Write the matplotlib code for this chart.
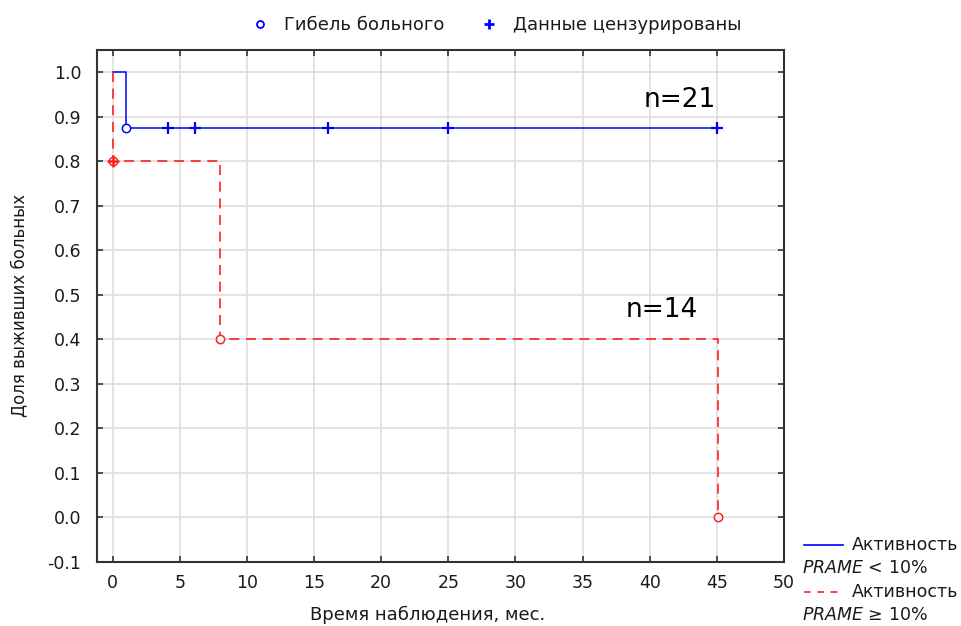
"""
Kaplan-Meier survival curves by PRAME activity.
"""

import matplotlib
matplotlib.use("Agg")
import matplotlib.pyplot as plt
from matplotlib.lines import Line2D

# survival steps, PRAME < 10%
low_t = [0, 1, 45]
low_s = [1.0, 0.875, 0.875]
low_death_t = [1]
low_death_s = [0.875]
low_cens_t = [4.1, 6.1, 16, 25, 45]
low_cens_s = [0.875, 0.875, 0.875, 0.875, 0.875]

# survival steps, PRAME >= 10%
high_t = [0, 0, 8, 45.1]
high_s = [1.0, 0.8, 0.4, 0.0]
high_death_t = [0, 8, 45.1]
high_death_s = [0.8, 0.4, 0.0]
high_cens_t = [0]
high_cens_s = [0.8]

x_ticks = [0, 5, 10, 15, 20, 25, 30, 35, 40, 45, 50]
y_ticks = [-0.1, 0.0, 0.1, 0.2, 0.3, 0.4, 0.5, 0.6, 0.7, 0.8, 0.9, 1.0]

BLUE = "#0000ff"
RED = "#ff2020"
TXT = "#1a1a1a"

plt.rcParams["font.family"] = ["DejaVu Sans"]

fig = plt.figure(figsize=(9.62, 6.26), dpi=100)
ax = fig.add_axes([0.1005, 0.1027, 0.7143, 0.8174])

ax.step(low_t, low_s, where="post", color=BLUE, linewidth=1.1, zorder=3)
ax.plot(low_death_t, low_death_s, "o", ms=6, mfc="white", mec=BLUE, mew=1.1, zorder=4)
ax.plot(low_cens_t, low_cens_s, "+", ms=8, color=BLUE, mew=1.6, zorder=4)

ax.step(high_t, high_s, where="post", color=RED, linewidth=1.2,
        dashes=(6, 4), zorder=3)
ax.plot(high_death_t, high_death_s, "o", ms=6, mfc="white", mec=RED, mew=1.1, zorder=4)
ax.plot(high_cens_t, high_cens_s, "+", ms=8, color=RED, mew=1.8, zorder=5)

ax.text(44.9, 0.922, "n=21", fontsize=19, ha="right", va="baseline", color="black")
ax.text(43.6, 0.449, "n=14", fontsize=19, ha="right", va="baseline", color="black")

ax.set_xlim(-1.2, 50)
ax.set_ylim(-0.1, 1.05)
ax.set_xticks(x_ticks)
ax.set_yticks(y_ticks)
ax.set_xticklabels([str(v) for v in x_ticks])
ax.set_yticklabels([f"{v:.1f}" for v in y_ticks])

ax.grid(True, color="#dedede", linewidth=1.2, zorder=0)
ax.set_axisbelow(True)
ax.tick_params(direction="in", length=4, width=1.2, colors="#333333",
               labelcolor=TXT, labelsize=12.5, top=True, right=True)
ax.tick_params(axis="x", pad=9)
ax.tick_params(axis="y", pad=11)
for spine in ax.spines.values():
    spine.set_edgecolor("#333333")
    spine.set_linewidth(1.5)

ax.set_xlabel("Время наблюдения, мес.", fontsize=13, color=TXT)
ax.set_ylabel("Доля выживших больных", fontsize=12, color=TXT)
ax.xaxis.set_label_coords(0.482, -0.086)
ax.yaxis.set_label_coords(-0.099, 0.5)

# marker legend above the plot
marker_handles = [
    Line2D([], [], linestyle="none", marker="o", ms=5, mfc="white", mec=BLUE, mew=1.3),
    Line2D([], [], linestyle="none", marker="+", ms=7, color=BLUE, mew=2),
]
fig.legend(marker_handles, ["Гибель больного", "Данные цензурированы"],
           loc="center", bbox_to_anchor=(0.516, 0.96), ncol=2, frameon=False,
           fontsize=13, columnspacing=2.0, handlelength=1.0,
           handletextpad=0.8, labelcolor=TXT)

# line legend in the lower right corner
for y_line, y_sub, color, dash, sub in [
    (0.130, 0.093, BLUE, None, r"$\it{PRAME}$ < 10%"),
    (0.055, 0.018, RED, (4, 4), r"$\it{PRAME}$ ≥ 10%"),
]:
    ln = Line2D([0.836, 0.876], [y_line, y_line], transform=fig.transFigure,
                color=color, linewidth=1.2)
    if dash:
        ln.set_dashes(dash)
    fig.add_artist(ln)
    fig.text(0.886, y_line, "Активность", fontsize=12.5, va="center", color=TXT)
    fig.text(0.834, y_sub, sub, fontsize=12.5, va="center", color=TXT)

fig.savefig("out.png", dpi=100)
